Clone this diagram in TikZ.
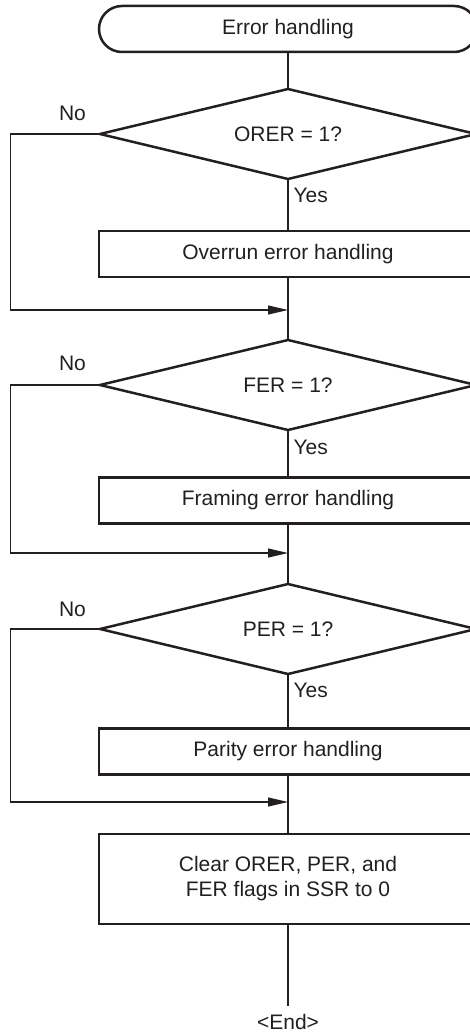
\documentclass[tikz,border=0pt]{standalone}
\usepackage{fontspec}
\setmainfont{Liberation Sans}
\usetikzlibrary{arrows.meta,positioning,shapes.geometric}
\definecolor{fink}{HTML}{231F20}
\tikzset{
  term/.style    = {draw, line width=2.5pt, rectangle, rounded corners=23pt,
                    minimum width=378pt, minimum height=46pt, outer sep=0pt},
  block/.style   = {draw, line width=2.5pt, rectangle, minimum width=378pt,
                    minimum height=46pt, align=center, outer sep=0pt},
  decide/.style  = {draw, line width=2.5pt, diamond, aspect=4.2,
                    minimum width=376pt, minimum height=90pt,
                    inner sep=0pt, outer sep=0pt},
  lbl/.style     = {inner sep=0pt},
  flow/.style    = {line width=1.1pt},
  sig/.style     = {-{Triangle[length=20pt,width=9pt]}, line width=1.1pt},
}

\begin{document}
\begin{tikzpicture}[x=1pt,y=-1pt,color=fink,
  font=\fontsize{21pt}{25pt}\selectfont]
\useasboundingbox (0,0) rectangle (470,1033);
\clip (0,0) rectangle (470,1033);
\node[term] (T) at (288,29) {Error handling};
\node[decide] (D1) at (288,134) {ORER = 1?};
\node[block] (B1) at (288,254) {Overrun error handling};
\coordinate (J1) at (288,310);
\node[decide] (D2) at (288,385) {FER = 1?};
\node[block] (B2) at (288,500.5) {Framing error handling};
\coordinate (J2) at (288,553);
\node[decide] (D3) at (288,629) {PER = 1?};
\node[block] (B3) at (288,751.5) {Parity error handling};
\coordinate (J3) at (288,802);
\node[block,minimum height=90pt] (B4) at (288,879)
  {Clear ORER, PER, and\\FER flags in SSR to 0};
\node[lbl,anchor=base,outer ysep=8.5pt] (E) at (288,1029.5) {<End>};
% labels on the decisions
\node[lbl,anchor=base] (N1) at (72.5,120.7) {No};
\node[lbl,anchor=base west] (Y1) at (293.3,202.7) {Yes};
\node[lbl,anchor=base] (N2) at (72.5,370.7) {No};
\node[lbl,anchor=base west] (Y2) at (293.3,454) {Yes};
\node[lbl,anchor=base] (N3) at (72.5,616) {No};
\node[lbl,anchor=base west] (Y3) at (293.3,697.7) {Yes};
% main flow
\draw[flow] (T) -- (D1);
\draw[flow] (D1) -- (B1);
\draw[flow] (B1) -- (D2);
\draw[flow] (D2) -- (B2);
\draw[flow] (B2) -- (D3);
\draw[flow] (D3) -- (B3);
\draw[flow] (B3) -- (B4);
\draw[flow] (B4) -- (E);
% no branches
\draw[sig] (D1.west) -- ++(-89.5,0) |- (J1);
\draw[sig] (D2.west) -- ++(-89.5,0) |- (J2);
\draw[sig] (D3.west) -- ++(-89.5,0) |- (J3);
\end{tikzpicture}
\end{document}
